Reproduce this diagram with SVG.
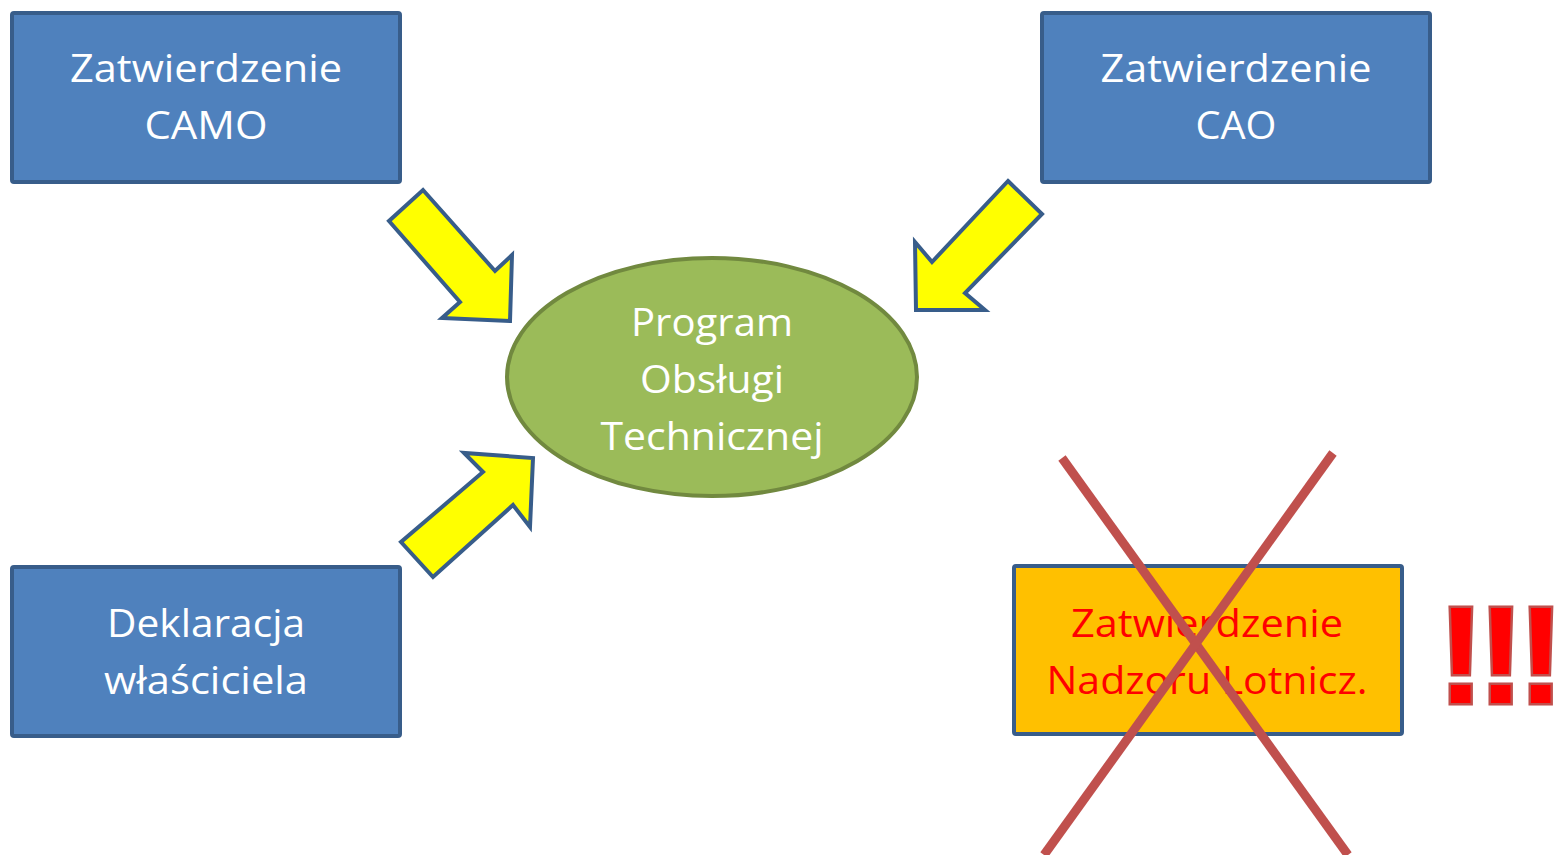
<svg xmlns="http://www.w3.org/2000/svg" width="1560" height="855" viewBox="0 0 1560 855">
<style>
.box{fill:#4f81bd;stroke:#385d8a;stroke-width:4}
.obox{fill:#ffc000;stroke:#385d8a;stroke-width:4}
.ell{fill:#9bbb59;stroke:#71893f;stroke-width:4}
.arr{fill:#ffff00;stroke:#385d8a;stroke-width:4;stroke-linejoin:miter}
.t{font-family:"Open Sans","Noto Sans","Liberation Sans",sans-serif;font-size:39px;fill:#ffffff;text-anchor:middle}
.tr{fill:#ff0000}
.x{stroke:#c0504d;stroke-width:9;fill:none}
.ex{font-family:"Liberation Sans",Arial,sans-serif;font-weight:bold;font-size:138px;letter-spacing:-6px;fill:#ff0000;stroke:#c0504d;stroke-width:5;paint-order:stroke}
</style>
<rect width="1560" height="855" fill="#ffffff"/>
<g id="camo">
<rect class="box" x="12" y="13" width="388" height="169" rx="2"/>
<text class="t" x="206" y="82" textLength="272" lengthAdjust="spacingAndGlyphs">Zatwierdzenie</text>
<text class="t" x="206" y="139" textLength="123" lengthAdjust="spacingAndGlyphs">CAMO</text>
</g>
<g id="cao">
<rect class="box" x="1042" y="13" width="388" height="169" rx="2"/>
<text class="t" x="1236" y="82" textLength="271" lengthAdjust="spacingAndGlyphs">Zatwierdzenie</text>
<text class="t" x="1236" y="139" textLength="81" lengthAdjust="spacingAndGlyphs">CAO</text>
</g>
<g id="deklaracja">
<rect class="box" x="12" y="567" width="388" height="169" rx="2"/>
<text class="t" x="206" y="637" textLength="198" lengthAdjust="spacingAndGlyphs">Deklaracja</text>
<text class="t" x="206" y="694" textLength="204" lengthAdjust="spacingAndGlyphs">właściciela</text>
</g>
<g id="program">
<ellipse class="ell" cx="712" cy="377" rx="205" ry="119"/>
<text class="t" x="712" y="336" textLength="162" lengthAdjust="spacingAndGlyphs">Program</text>
<text class="t" x="712" y="393" textLength="144" lengthAdjust="spacingAndGlyphs">Obsługi</text>
<text class="t" x="712" y="450" textLength="223" lengthAdjust="spacingAndGlyphs">Technicznej</text>
</g>
<g id="nadzor">
<rect class="obox" x="1014" y="566" width="388" height="168" rx="2"/>
<text class="t tr" x="1207" y="637" textLength="272" lengthAdjust="spacingAndGlyphs">Zatwierdzenie</text>
<text class="t tr" x="1207" y="694" textLength="321" lengthAdjust="spacingAndGlyphs">Nadzoru Lotnicz.</text>
</g>
<g id="connectors">
<polygon class="arr" points="423,190 495,271 512,255 510,321 442,318 460,302 389,221"/>
<polygon class="arr" points="1008,181 1042,214 965,293 985,310 916,310 915,242 932,262"/>
<polygon class="arr" points="401,542 433,577 513,505 530,527 533,458 464,453 483,472"/>
</g>
<g id="cross">
<line class="x" x1="1062" y1="458" x2="1348" y2="855"/>
<line class="x" x1="1333" y1="453" x2="1044" y2="855"/>
</g>
<g id="exclaim">
<text class="ex" x="1438" y="703">!!!</text>
</g>
</svg>
